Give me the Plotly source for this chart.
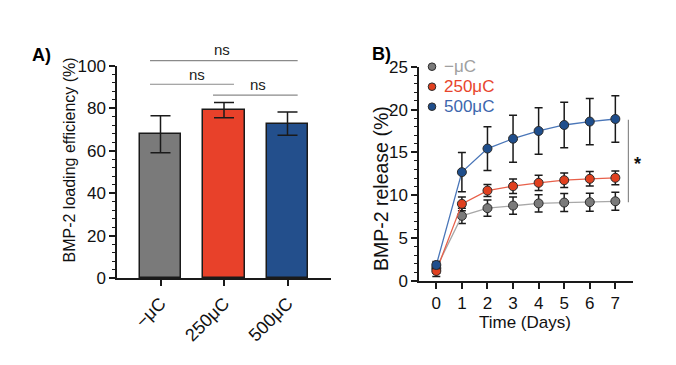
import plotly.graph_objects as go

# ---------------- data ----------------
groups = ["−μC", "250μC", "500μC"]
loading_mean = [67.8, 79.2, 72.8]
loading_err = [8.7, 3.6, 5.5]
bar_colors = ["#7a7a7a", "#e8412a", "#234f8c"]

days = [0, 1, 2, 3, 4, 5, 6, 7]
rel_none = [1.5, 7.6, 8.5, 8.8, 9.05, 9.15, 9.2, 9.3]
rel_none_err = [0.6, 0.9, 0.95, 1.0, 1.0, 1.05, 1.05, 1.05]
rel_250 = [1.17, 9.0, 10.55, 11.06, 11.45, 11.76, 11.92, 12.04]
rel_250_err = [0.65, 0.8, 0.7, 0.85, 0.9, 0.85, 0.85, 0.8]
rel_500 = [1.87, 12.7, 15.45, 16.6, 17.5, 18.2, 18.6, 18.9]
rel_500_err = [0.4, 2.3, 2.55, 2.75, 2.7, 2.65, 2.7, 2.7]

series_names = ["−μC", "250μC", "500μC"]
line_colors = ["#a8a8a8", "#e8604a", "#4a76b8"]
marker_colors = ["#7a7a7a", "#e0401f", "#1f4e8c"]
text_colors = ["#a0a0a0", "#e8452c", "#3d66ad"]

W, H = 676, 365
FONT = "Liberation Sans, Arial, Helvetica, sans-serif"

def px_x(p):
    return p / W

def px_y(p):
    return 1 - p / H

# panel geometry (pixels)
A_dom_x = [px_x(117), px_x(331)]
A_dom_y = [px_y(278), px_y(66)]
A_xr = [-0.685, 2.685]
A_yr = [0, 100]
B_dom_x = [px_x(419), px_x(633)]
B_dom_y = [px_y(281), px_y(66.7)]
B_xr = [-0.677, 7.69]
B_yr = [0, 25]

def ax2p(v, dom, rng):
    return dom[0] + (v - rng[0]) / (rng[1] - rng[0]) * (dom[1] - dom[0])

fig = go.Figure()

# ---------------- panel A: bars ----------------
fig.add_trace(go.Bar(
    x=[0, 1, 2], y=loading_mean, width=0.646,
    marker=dict(color=bar_colors, line=dict(color="#1a1a1a", width=1.5)),
    error_y=dict(type="data", array=loading_err, color="#1a1a1a", thickness=1.5, width=10),
    xaxis="x", yaxis="y", showlegend=False,
))

# ---------------- panel B: lines ----------------
for vals, errs, lc, mc in [
    (rel_none, rel_none_err, line_colors[0], marker_colors[0]),
    (rel_250, rel_250_err, line_colors[1], marker_colors[1]),
    (rel_500, rel_500_err, line_colors[2], marker_colors[2]),
]:
    fig.add_trace(go.Scatter(
        x=days, y=vals, mode="lines+markers",
        line=dict(color=lc, width=1.3),
        marker=dict(size=9, color=mc, line=dict(color="#2a2a2a", width=1)),
        error_y=dict(type="data", array=errs, color="#1a1a1a", thickness=1.5, width=4),
        xaxis="x2", yaxis="y2", showlegend=False, cliponaxis=False,
    ))

axis_common = dict(showline=True, linecolor="#1a1a1a", linewidth=1.5, showgrid=False,
                   zeroline=False, ticks="outside", tickcolor="#1a1a1a", tickwidth=1.5,
                   ticklen=6, fixedrange=True, automargin=False)

fig.update_layout(
    width=W, height=H,
    margin=dict(l=0, r=0, t=0, b=0, autoexpand=False),
    paper_bgcolor="white", plot_bgcolor="white",
    font=dict(family=FONT, color="#111111", size=16),
    bargap=0,
    xaxis=dict(domain=A_dom_x, range=A_xr, anchor="y", tickvals=[0, 1, 2], ticktext=groups,
               tickangle=-45, tickfont=dict(size=18), **axis_common),
    yaxis=dict(domain=A_dom_y, range=A_yr, anchor="x", tickvals=[0, 20, 40, 60, 80, 100],
               tickfont=dict(size=17),
               minor=dict(dtick=4, ticklen=3, tickcolor="#1a1a1a", tickwidth=1, ticks="outside"),
               **axis_common),
    xaxis2=dict(domain=B_dom_x, range=B_xr, anchor="y2", tickvals=days,
                tickfont=dict(size=17), **axis_common),
    yaxis2=dict(domain=B_dom_y, range=B_yr, anchor="x2", tickvals=[0, 5, 10, 15, 20, 25],
                tickfont=dict(size=17),
                minor=dict(dtick=1, ticklen=3, tickcolor="#1a1a1a", tickwidth=1, ticks="outside"),
                **axis_common),
)

shapes = []
annotations = []

# significance brackets in panel A (data positions mapped to paper)
sig_lines = [(-0.165, 2.16, 102.5), (-0.165, 1.157, 91.4), (0.827, 2.16, 86.3)]
sig_texts = [(0.961, 108.0), (0.575, 96.2), (1.535, 91.5)]
for x0, x1, yv in sig_lines:
    shapes.append(dict(type="line", xref="paper", yref="paper",
                       x0=ax2p(x0, A_dom_x, A_xr), x1=ax2p(x1, A_dom_x, A_xr),
                       y0=ax2p(yv, A_dom_y, A_yr), y1=ax2p(yv, A_dom_y, A_yr),
                       line=dict(color="#8a8a8a", width=1.2)))
for xv, yv in sig_texts:
    annotations.append(dict(text="ns", xref="paper", yref="paper",
                            x=ax2p(xv, A_dom_x, A_xr), y=ax2p(yv, A_dom_y, A_yr),
                            xanchor="center", yanchor="middle", showarrow=False,
                            font=dict(size=15, color="#222222")))

# significance bracket in panel B
shapes.append(dict(type="line", xref="paper", yref="paper",
                   x0=ax2p(7.51, B_dom_x, B_xr), x1=ax2p(7.51, B_dom_x, B_xr),
                   y0=ax2p(18.8, B_dom_y, B_yr), y1=ax2p(9.18, B_dom_y, B_yr),
                   line=dict(color="#8a8a8a", width=1.2)))
annotations.append(dict(text="<b>*</b>", xref="paper", yref="paper",
                        x=ax2p(7.86, B_dom_x, B_xr), y=ax2p(13.6, B_dom_y, B_yr),
                        xanchor="center", yanchor="middle", showarrow=False,
                        font=dict(size=18, color="#111111")))

# legend (panel B)
leg_y = [66.7, 86.7, 106.7]
for name, mc, tc, yy in zip(series_names, marker_colors, text_colors, leg_y):
    r = 3.8
    shapes.append(dict(type="circle", xref="paper", yref="paper",
                       x0=px_x(432 - r), x1=px_x(432 + r), y0=px_y(yy + r), y1=px_y(yy - r),
                       fillcolor=mc, line=dict(color="#2a2a2a", width=1)))
    annotations.append(dict(text=name, xref="paper", yref="paper", x=px_x(442), y=px_y(yy),
                            xanchor="left", yanchor="middle", showarrow=False,
                            font=dict(size=17, color=tc)))

# axis titles and panel labels
annotations += [
    dict(text="BMP-2 loading efficiency (%)", xref="paper", yref="paper", x=px_x(69), y=px_y(160.5),
         textangle=-90, xanchor="center", yanchor="middle", showarrow=False, font=dict(size=16)),
    dict(text="BMP-2 release (%)", xref="paper", yref="paper", x=px_x(381), y=px_y(189),
         textangle=-90, xanchor="center", yanchor="middle", showarrow=False, font=dict(size=19.5)),
    dict(text="Time (Days)", xref="paper", yref="paper", x=px_x(525), y=px_y(322),
         xanchor="center", yanchor="middle", showarrow=False, font=dict(size=17)),
    dict(text="<b>A)</b>", xref="paper", yref="paper", x=px_x(41), y=px_y(55),
         xanchor="center", yanchor="middle", showarrow=False, font=dict(size=18, color="#000000")),
    dict(text="<b>B)</b>", xref="paper", yref="paper", x=px_x(381), y=px_y(54),
         xanchor="center", yanchor="middle", showarrow=False, font=dict(size=18, color="#000000")),
]

fig.update_layout(shapes=shapes, annotations=annotations)
fig.write_html("out.html", config={"displayModeBar": False},
               post_script="document.body.style.margin='0px';")
